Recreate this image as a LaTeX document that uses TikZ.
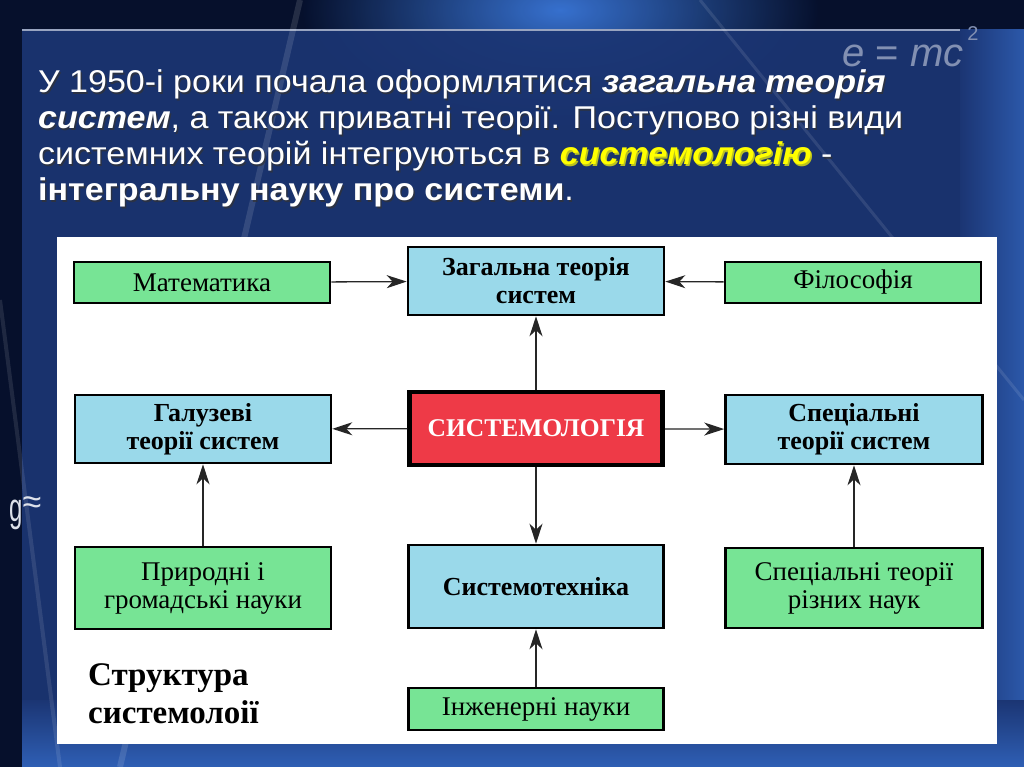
\documentclass[tikz,border=0pt]{standalone}
\usepackage{fontspec}
\setmainfont{Liberation Serif}
\newfontfamily\hdr[FakeStretch=1.08]{Liberation Sans}
\newfontfamily\plainsans{Liberation Sans}
\usetikzlibrary{arrows.meta}
\definecolor{gfill}{HTML}{77E495}
\definecolor{bfill}{HTML}{9AD9EA}
\definecolor{rfill}{HTML}{EE3A47}
\definecolor{bgdark}{HTML}{06102C}
\definecolor{panel}{HTML}{1B3573}
\definecolor{glow}{HTML}{3C7BE0}
\definecolor{ylw}{HTML}{FFFF00}
\newcommand\hdrline[3]{%
  \node[hdrtext, text=black!80, opacity=0.7] at (#1+1.5,#2+1.5) {#3};
  \node[hdrtext] (#1-#2) at (#1,#2) {#3};}
\begin{document}
\begin{tikzpicture}[x=1pt,y=-1pt,
  hdrtext/.style={anchor=base west, inner sep=0, text=white, font=\hdr\fontsize{31.5}{36}\selectfont},
  box/.style={draw=black, line width=2.6pt, rectangle, inner sep=0, align=center, font=\fontsize{27}{28}\selectfont},
  gbox/.style={box, fill=gfill},
  bbox/.style={box, fill=bfill, font=\bfseries\fontsize{26}{28}\selectfont},
  ttl/.style={anchor=base west, inner sep=0, font=\bfseries\fontsize{33}{38}\selectfont},
  arr/.style={-{Stealth[length=20pt,width=13pt,inset=6pt]}, line width=1.3pt, draw=black!85}]
% background
\useasboundingbox (0,0) rectangle (1024,767);
\fill[bgdark] (0,0) rectangle (1024,767);
\shade[inner color=glow, outer color=bgdark, opacity=0.9] (560,10) ellipse (260 and 120);
\fill[panel, opacity=0.92] (22,30) rectangle (1024,767);
\draw[white!55!panel, line width=2pt] (22,30) -- (1024,30);
\shade[left color=panel, right color=glow!50!panel] (960,30) rectangle (1024,767);
\shade[top color=panel, bottom color=glow!60!panel] (22,700) rectangle (1024,767);
\draw[white, opacity=0.12, line width=6pt] (300,0) -- (120,767);
\draw[white, opacity=0.10, line width=3pt] (700,0) -- (1024,400);
\draw[white, opacity=0.10, line width=4pt] (0,300) -- (60,767);
\node[text=white!45!panel, font=\plainsans\fontsize{40}{40}\selectfont, anchor=base west, inner sep=0] (emc) at (842,67) {\textit{e} = \textit{mc}\hspace{4pt}\raisebox{26pt}{\fontsize{20}{20}\selectfont 2}};
\node[text=white!85!panel, font=\plainsans\fontsize{40}{40}\selectfont, anchor=base west, inner sep=0] (gapprox) at (9,521) {\scalebox{0.6}[1]{g}\raisebox{8pt}{\fontsize{34}{34}\selectfont≈}};
% header text
\hdrline{38}{93}{У 1950-і роки почала оформлятися \textbf{\textit{загальна теорія}}}
\hdrline{38}{129}{\textbf{\textit{систем}}, а також приватні теорії. Поступово різні види}
\hdrline{38}{165}{системних теорій інтегруються в \textbf{\textit{\color{ylw}системологію}} -}
\hdrline{38}{201}{\textbf{інтегральну науку про системи}.}
% white area
\fill[white] (57,237) rectangle (997,744);
% boxes
\node[gbox, minimum width=256pt, minimum height=41pt] (mat) at (202,282.5) {Математика};
\node[bbox, minimum width=256pt, minimum height=68pt] (zag) at (536,281) {Загальна теорія\\систем};
\node[gbox, minimum width=256pt, minimum height=41pt] (fil) at (853,282.5) {Філософія};
\node[bbox, minimum width=256pt, minimum height=68pt] (gal) at (203,429) {Галузеві\\теорії систем};
\node[box, fill=rfill, line width=4.5pt, text=white, font=\bfseries\fontsize{25.5}{27}\selectfont, minimum width=253pt, minimum height=73pt] (sys) at (536,428.5) {СИСТЕМОЛОГІЯ};
\node[bbox, minimum width=257pt, minimum height=69pt] (spe) at (854,429.5) {Спеціальні\\теорії систем};
\node[gbox, minimum width=256pt, minimum height=82pt] (pry) at (203,588) {Природні і\\громадські науки};
\node[bbox, minimum width=255pt, minimum height=83pt] (stx) at (536,586.5) {Системотехніка};
\node[gbox, minimum width=257pt, minimum height=80pt] (spr) at (854,588) {Спеціальні теорії\\різних наук};
\node[gbox, minimum width=255pt, minimum height=42pt] (ing) at (536,709) {Інженерні науки};
\node[ttl] (title1) at (88,685) {Структура};
\node[ttl] (title2) at (88,723) {системолоії};
% arrows
\draw[arr] (mat) -- (zag);
\draw[arr] (fil) -- (zag);
\draw[arr] (sys) -- (zag);
\draw[arr] (sys) -- (gal);
\draw[arr] (sys) -- (spe);
\draw[arr] (sys) -- (stx);
\draw[arr] (pry) -- (gal);
\draw[arr] (spr) -- (spe);
\draw[arr] (ing) -- (stx);
\end{tikzpicture}
\end{document}
